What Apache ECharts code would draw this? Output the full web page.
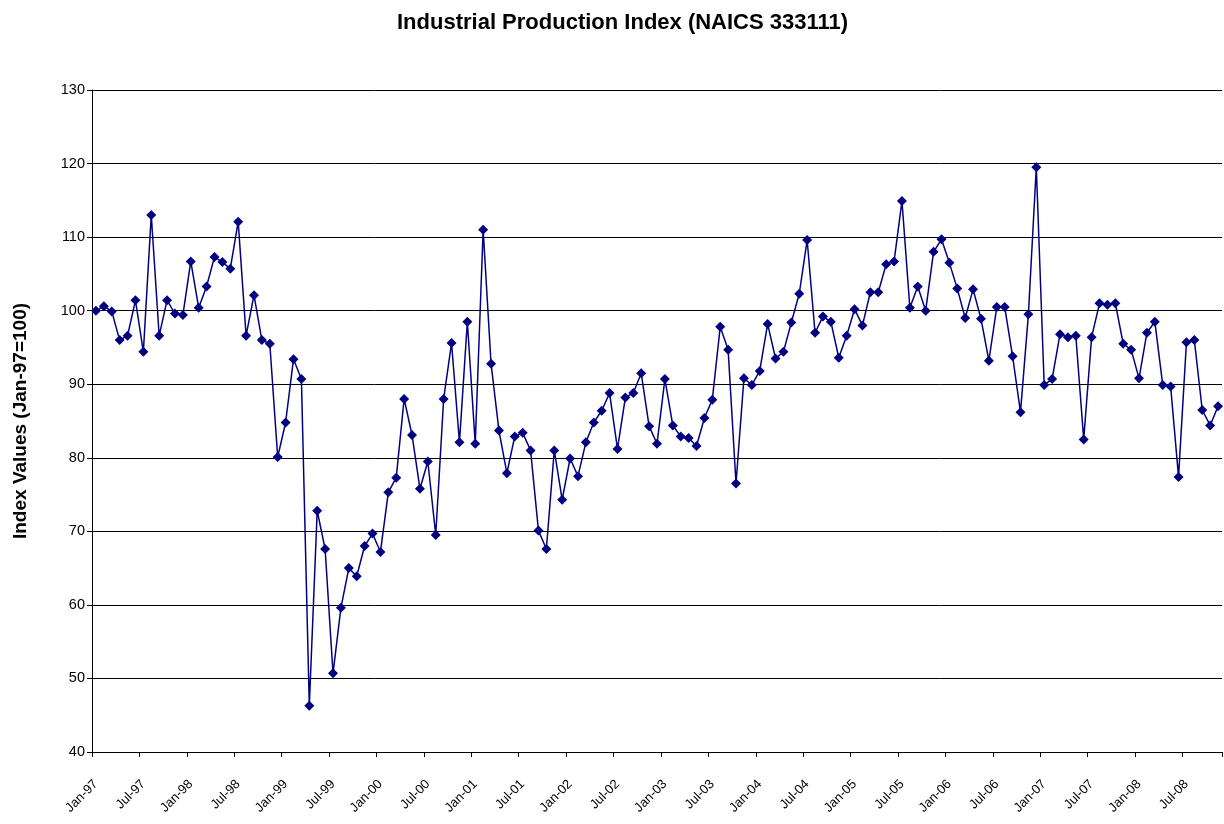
<!DOCTYPE html>
<html>
<head>
<meta charset="utf-8">
<script src="https://cdn.jsdelivr.net/npm/echarts@6/dist/echarts.min.js"></script>
<style>
  html, body { margin: 0; padding: 0; background: #fff; }
  #chart { width: 1224px; height: 824px; }
</style>
</head>
<body>
<div id="chart"></div>
<script>
// monthly index values (Jan-97 = 100)
const v1997 = [100.0, 100.6, 99.9, 96.0, 96.6, 101.4, 94.4, 113.0, 96.6, 101.4, 99.6, 99.4]
const v1998 = [106.7, 100.4, 103.3, 107.3, 106.6, 105.7, 112.1, 96.6, 102.1, 96.0, 95.5, 80.1]
const v1999 = [84.8, 93.4, 90.7, 46.3, 72.8, 67.6, 50.7, 59.6, 65.0, 63.9, 68.0, 69.7]
const v2000 = [67.2, 75.3, 77.3, 88.0, 83.1, 75.8, 79.5, 69.5, 88.0, 95.6, 82.1, 98.5]
const v2001 = [81.9, 111.0, 92.8, 83.7, 77.9, 82.9, 83.4, 81.0, 70.1, 67.6, 81.0, 74.3]
const v2002 = [79.9, 77.5, 82.1, 84.8, 86.4, 88.8, 81.2, 88.2, 88.8, 91.5, 84.3, 81.9]
const v2003 = [90.7, 84.4, 82.9, 82.7, 81.6, 85.4, 87.9, 97.8, 94.7, 76.5, 90.8, 89.9]
const v2004 = [91.8, 98.2, 93.5, 94.4, 98.4, 102.3, 109.6, 97.0, 99.2, 98.5, 93.6, 96.6]
const v2005 = [100.2, 98.0, 102.5, 102.5, 106.3, 106.7, 114.9, 100.4, 103.3, 100.0, 108.0, 109.7]
const v2006 = [106.5, 103.0, 99.0, 102.9, 98.9, 93.2, 100.5, 100.5, 93.8, 86.2, 99.5, 119.5]
const v2007 = [89.9, 90.7, 96.8, 96.4, 96.6, 82.5, 96.4, 101.0, 100.8, 101.0, 95.5, 94.7]
const v2008 = [90.8, 97.0, 98.5, 89.9, 89.7, 77.4, 95.7, 96.0, 86.5, 84.4, 87.0]

const monthNames = ['Jan', 'Feb', 'Mar', 'Apr', 'May', 'Jun', 'Jul', 'Aug', 'Sep', 'Oct', 'Nov', 'Dec']
const yearTags = ['97', '98', '99', '00', '01', '02', '03', '04', '05', '06', '07', '08']

const values = [].concat(v1997, v1998, v1999, v2000, v2001, v2002,
    v2003, v2004, v2005, v2006, v2007, v2008)

const categories = []
yearTags.forEach(y => {
    monthNames.forEach(m => categories.push(m + '-' + y))
})
categories.length = values.length

const font = 'Liberation Sans, Arial, sans-serif'
const chart = echarts.init(document.getElementById('chart'))

chart.setOption({
    backgroundColor: '#fff',
    animation: false,
    title: {
        text: 'Industrial Production Index (NAICS 333111)',
        left: 392,
        top: 7,
        textStyle: {
            fontFamily: font,
            fontSize: 22,
            fontWeight: 'bold',
            color: '#000'
        }
    },
    grid: {
        left: 92,
        right: 2,
        top: 90,
        bottom: 72,
        containLabel: false
    },
    xAxis: {
        type: 'category',
        boundaryGap: true,
        data: categories,
        axisLine: {
            lineStyle: { color: '#000', width: 1 }
        },
        axisTick: {
            show: true,
            interval: 5,
            length: 5,
            lineStyle: { color: '#000' }
        },
        axisLabel: {
            interval: 5,
            rotate: 45,
            fontFamily: font,
            fontSize: 13,
            color: '#000',
            margin: 30
        },
        splitLine: { show: false }
    },
    yAxis: {
        type: 'value',
        min: 40,
        max: 130,
        interval: 10,
        name: 'Index Values (Jan-97=100)',
        nameLocation: 'middle',
        nameGap: 62,
        nameTextStyle: {
            fontFamily: font,
            fontSize: 19,
            fontWeight: 'bold',
            color: '#000'
        },
        axisLine: {
            show: true,
            lineStyle: { color: '#000', width: 1 }
        },
        axisTick: {
            show: true,
            length: 5,
            lineStyle: { color: '#000' }
        },
        axisLabel: {
            fontFamily: font,
            fontSize: 14.5,
            color: '#000',
            margin: 7
        },
        splitLine: {
            show: true,
            lineStyle: { color: '#000', width: 1 }
        }
    },
    series: [
        {
            name: 'Index',
            type: 'line',
            data: values,
            smooth: false,
            symbol: 'diamond',
            symbolSize: 10,
            showAllSymbol: true,
            lineStyle: { color: '#000080', width: 1.5 },
            itemStyle: { color: '#000080' }
        }
    ]
})
</script>
</body>
</html>
